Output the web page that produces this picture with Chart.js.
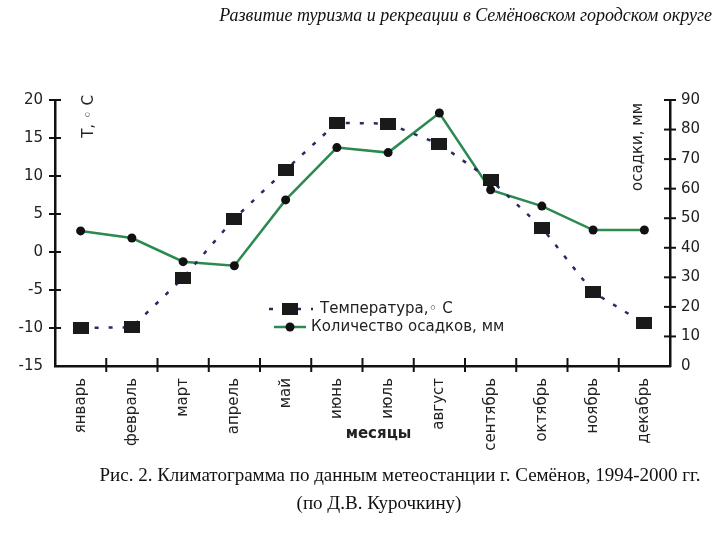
<!DOCTYPE html>
<html>
<head>
<meta charset="utf-8">
<script src="https://cdn.jsdelivr.net/npm/chart.js@4.4.0/dist/chart.umd.min.js"></script>
<style>
  html, body { margin: 0; padding: 0; background: #ffffff; }
  #wrap { position: relative; width: 720px; height: 540px; overflow: hidden; background: #fff; }
  #c { position: absolute; left: 0; top: 0; }
  .head { position: absolute; right: 8px; top: 5px; font: italic 18px 'Liberation Serif', serif; color: #111; white-space: nowrap; }
  .cap1 { position: absolute; left: 0; width: 800px; top: 464px; text-align: center; font: 19px 'Liberation Serif', serif; color: #111; white-space: nowrap; }
  .cap2 { position: absolute; left: 0; width: 758px; top: 492px; text-align: center; font: 19px 'Liberation Serif', serif; color: #111; white-space: nowrap; }
</style>
</head>
<body>
<div id="wrap">
  <canvas id="c" width="720" height="540"></canvas>
  <div class="head">Развитие туризма и рекреации в Семёновском городском округе</div>
  <div class="cap1">Рис. 2. Климатограмма по данным метеостанции г. Семёнов, 1994-2000 гг.</div>
  <div class="cap2">(по Д.В. Курочкину)</div>
</div>
<script>
const months = ['январь', 'февраль', 'март', 'апрель', 'май', 'июнь', 'июль', 'август', 'сентябрь', 'октябрь', 'ноябрь', 'декабрь'];
const temperature = [-10.0, -9.9, -3.4, 4.4, 10.8, 17.0, 16.9, 14.2, 9.5, 3.2, -5.3, -9.4];
const precipitation = [45.7, 43.3, 35.3, 33.9, 56.2, 73.9, 72.2, 85.6, 59.6, 54.1, 46.0, 46.0];
const tempTicks = [-15, -10, -5, 0, 5, 10, 15, 20];
const precTicks = [0, 10, 20, 30, 40, 50, 60, 70, 80, 90];
const tempLabel = 'Температура,◦ C';
const precLabel = 'Количество осадков, мм';
const tempAxisTitle = 'T, ◦ C';
const precAxisTitle = 'осадки, мм';
const xAxisTitle = 'месяцы';

const FONT = "'DejaVu Sans', Verdana, sans-serif";
const TXT = '#222222';

// square marker
const sq = document.createElement('canvas');
sq.width = 16; sq.height = 12;
(function(){ const g = sq.getContext('2d'); g.fillStyle = '#1a1a1a'; g.fillRect(0, 0, 16, 12); })();

const crossTicks = {
  id: 'crossTicks',
  afterDraw(chart) {
    const ctx = chart.ctx;
    const a = chart.chartArea;
    ctx.save();
    ctx.strokeStyle = '#111';
    ctx.lineWidth = 2;
    // left axis ticks
    const yT = chart.scales.yT;
    yT.ticks.forEach((t, i) => {
      if (t.value === yT.min) return;
      const y = yT.getPixelForValue(t.value);
      ctx.beginPath(); ctx.moveTo(a.left - 6, y); ctx.lineTo(a.left + 6, y); ctx.stroke();
    });
    const yP = chart.scales.yP;
    yP.ticks.forEach((t) => {
      if (t.value === yP.min) return;
      const y = yP.getPixelForValue(t.value);
      ctx.beginPath(); ctx.moveTo(a.right - 6, y); ctx.lineTo(a.right + 6, y); ctx.stroke();
    });
    const x = chart.scales.x;
    for (let i = 0; i < x.ticks.length - 1; i++) {
      const px = (x.getPixelForTick(i) + x.getPixelForTick(i + 1)) / 2;
      ctx.beginPath(); ctx.moveTo(px, a.bottom - 8); ctx.lineTo(px, a.bottom + 6); ctx.stroke();
    }
    // axis titles
    ctx.fillStyle = TXT;
    ctx.font = '15px ' + FONT;
    ctx.textBaseline = 'middle';
    ctx.textAlign = 'right';
    ctx.save();
    ctx.translate(a.left + 34, a.top - 5);
    ctx.rotate(-Math.PI / 2);
    ctx.fillText(tempAxisTitle, 0, 0);
    ctx.restore();
    ctx.save();
    ctx.translate(a.right - 32, a.top + 3);
    ctx.rotate(-Math.PI / 2);
    ctx.fillText(precAxisTitle, 0, 0);
    ctx.restore();
    ctx.font = 'bold 15px ' + FONT;
    ctx.textAlign = 'center';
    ctx.fillText(xAxisTitle, (a.left + a.right) / 2 + 16, a.bottom + 68);
    // legend
    const ds0 = chart.data.datasets[0], ds1 = chart.data.datasets[1];
    const lx = a.left + 206, ly1 = a.top + 209, ly2 = a.top + 227;
    ctx.strokeStyle = ds0.borderColor; ctx.lineWidth = ds0.borderWidth;
    ctx.setLineDash(ds0.borderDash);
    ctx.beginPath(); ctx.moveTo(lx + 8, ly1); ctx.lineTo(lx + 52, ly1); ctx.stroke();
    ctx.setLineDash([]);
    ctx.drawImage(sq, lx + 21, ly1 - 6);
    ctx.strokeStyle = ds1.borderColor; ctx.lineWidth = ds1.borderWidth;
    ctx.beginPath(); ctx.moveTo(lx + 13, ly2); ctx.lineTo(lx + 45, ly2); ctx.stroke();
    ctx.fillStyle = '#111';
    ctx.beginPath(); ctx.arc(lx + 29, ly2, 4.5, 0, Math.PI * 2); ctx.fill();
    ctx.fillStyle = TXT;
    ctx.font = '15px ' + FONT;
    ctx.textAlign = 'left';
    ctx.fillText(tempLabel, lx + 59, ly1);
    ctx.fillText(precLabel, lx + 50, ly2);
    ctx.restore();
  }
};

new Chart(document.getElementById('c'), {
  type: 'line',
  data: {
    labels: months,
    datasets: [
      {
        label: tempLabel,
        data: temperature,
        yAxisID: 'yT',
        borderColor: '#2a2a62',
        borderWidth: 2.5,
        borderDash: [4, 10],
        pointStyle: sq,
        pointRadius: 8,
        tension: 0,
        fill: false
      },
      {
        label: precLabel,
        data: precipitation,
        yAxisID: 'yP',
        borderColor: '#2b8a4f',
        borderWidth: 2.5,
        pointStyle: 'circle',
        pointRadius: 4.5,
        pointBackgroundColor: '#111',
        pointBorderColor: '#111',
        pointBorderWidth: 0,
        tension: 0,
        fill: false
      }
    ]
  },
  options: {
    responsive: false,
    animation: false,
    events: [],
    layout: { padding: { top: 100, left: 0, right: 0, bottom: 0 } },
    plugins: { legend: { display: false }, tooltip: { enabled: false }, title: { display: false } },
    scales: {
      x: {
        type: 'category',
        offset: true,
        grid: { display: false, drawTicks: false },
        border: { display: true, color: '#111', width: 2.5 },
        ticks: { color: TXT, font: { family: FONT, size: 15 }, minRotation: 90, maxRotation: 90, padding: 12, autoSkip: false },
        afterFit(s) { s.height = 174; }
      },
      yT: {
        type: 'linear',
        position: 'left',
        min: -15, max: 20,
        afterBuildTicks(s) { s.ticks = tempTicks.map(v => ({ value: v })); },
        grid: { display: false, drawTicks: false },
        border: { display: true, color: '#111', width: 2.5 },
        ticks: { color: TXT, font: { family: FONT, size: 15 }, padding: 12 },
        afterFit(s) { s.width = 55; }
      },
      yP: {
        type: 'linear',
        position: 'right',
        min: 0, max: 90,
        afterBuildTicks(s) { s.ticks = precTicks.map(v => ({ value: v })); },
        grid: { display: false, drawTicks: false },
        border: { display: true, color: '#111', width: 2.5 },
        ticks: { color: TXT, font: { family: FONT, size: 15 }, padding: 11 },
        afterFit(s) { s.width = 50; }
      }
    }
  },
  plugins: [crossTicks]
});
</script>
</body>
</html>
